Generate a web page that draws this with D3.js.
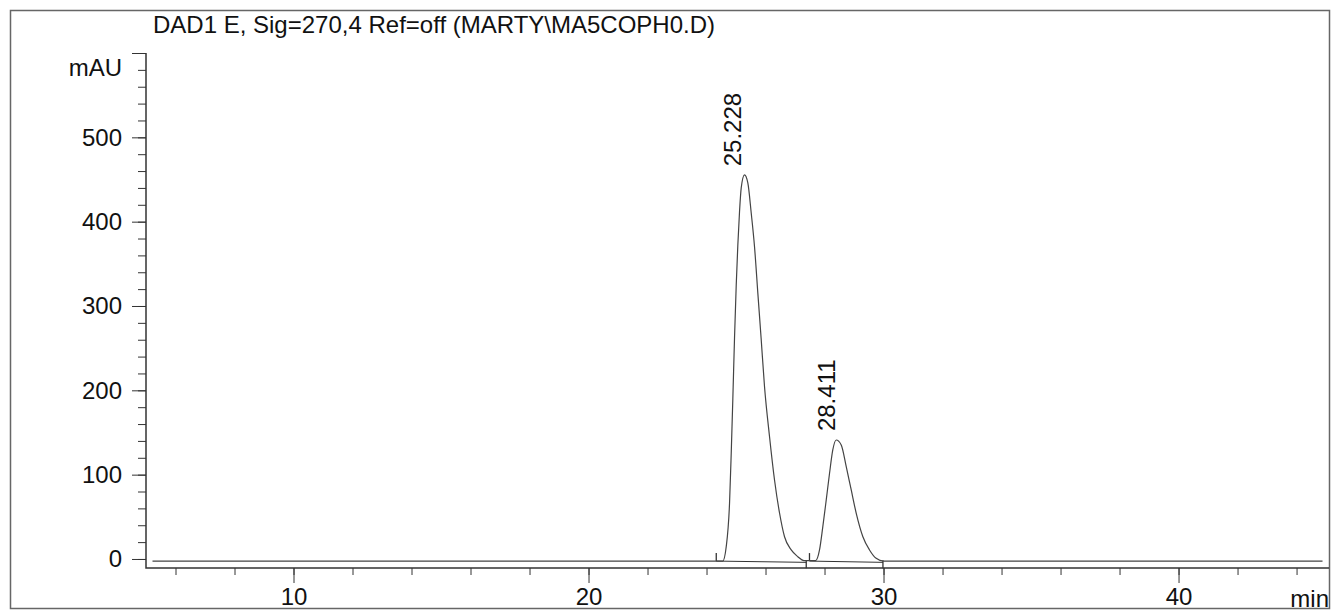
<!DOCTYPE html>
<html>
<head>
<meta charset="utf-8">
<script src="https://d3js.org/d3.v7.min.js"></script>
<style>
body { margin: 0; background: #fff; }
text { font-family: "Liberation Sans", Arial, sans-serif; fill: #111; }
</style>
</head>
<body>
<div id="graph"></div>
<script>
// title + axis labels
var title = "DAD1 E, Sig=270,4 Ref=off (MARTY\\MA5COPH0.D)";
var yUnit = "mAU";
var xUnit = "min";
var xTickLabels = [10, 20, 30, 40];
var yTickLabels = [0, 100, 200, 300, 400, 500];

// signal (time in min, mAU)
var sigTime = [5.22, 24.55, 24.668, 24.78, 24.837, 24.892, 24.949, 25.007, 25.061, 25.119, 25.176, 25.288,
  25.4, 25.515, 25.627, 25.74, 25.85, 25.966, 26.136, 26.305, 26.475, 26.644, 26.871, 27.095, 27.3,
  27.7, 27.83, 27.942, 28.058, 28.17, 28.28, 28.397, 28.566, 28.736, 28.905, 29.075, 29.3, 29.525, 29.75,
  30.0, 44.88];
var sigValue = [-2.5, -2.5, 14.6, 66, 125, 190, 262, 325, 372, 412, 440, 455.4,
  445.9, 410.3, 370.3, 315, 262, 204.3, 145, 93.7, 54.5, 26.4, 10.7, 2.7, -2,
  -2, 10.7, 38.3, 70, 101.6, 129.3, 141.1, 135.2, 109.5, 81.8, 54.2, 26.4, 10.7, 0.8,
  -2.5, -2.5];

// integrated peaks
var peakRT = [25.228, 28.411];
var peakHeight = [455, 141];
var peakStart = [24.33, 27.49];
var peakEnd = [27.38, 29.98];

function drawStuff(){
  var W = 1332, H = 611;
  var svg = d3.select("#graph").append("svg")
    .attr("width", W).attr("height", H);

  // outer frame
  svg.append("rect")
    .attr("x", 10.5).attr("y", 10.5)
    .attr("width", 1319).attr("height", 598)
    .attr("fill", "none").attr("stroke", "#666").attr("stroke-width", 1.5);

  var x = d3.scaleLinear().domain([5, 45.1]).range([146, 1329]);
  var y = d3.scaleLinear().domain([-10.7, 600]).range([568, 53]);

  // y axis
  var yMinor = d3.range(0, 601, 20);
  svg.append("g").attr("transform", "translate(146,0)")
    .call(d3.axisLeft(y).tickValues(yMinor).tickSize(8).tickFormat(""))
    .call(function(g){ g.select(".domain").remove(); g.selectAll("line").attr("stroke", "#333"); });
  svg.append("g").attr("transform", "translate(146,0)")
    .call(d3.axisLeft(y).tickValues(yTickLabels.concat([600])).tickSize(14).tickPadding(10)
      .tickFormat(function(d){ return d == 600 ? "" : d; }))
    .call(function(g){
      g.select(".domain").remove();
      g.selectAll("line").attr("stroke", "#333");
      g.selectAll("text").style("font-size", "24px").attr("fill", "#111")
        .style("font-family", "'Liberation Sans', Arial, sans-serif");
    });

  // x axis
  var xMinor = d3.range(6, 45, 2);
  svg.append("g").attr("transform", "translate(0,568)")
    .call(d3.axisBottom(x).tickValues(xMinor).tickSize(7).tickFormat(""))
    .call(function(g){ g.select(".domain").remove(); g.selectAll("line").attr("stroke", "#333"); });
  svg.append("g").attr("transform", "translate(0,568)")
    .call(d3.axisBottom(x).tickValues(xTickLabels).tickSize(15).tickPadding(5))
    .call(function(g){
      g.select(".domain").remove();
      g.selectAll("line").attr("stroke", "#333");
      g.selectAll("text").style("font-size", "24px").attr("fill", "#111")
        .style("font-family", "'Liberation Sans', Arial, sans-serif");
    });

  // axis lines
  svg.append("path")
    .attr("d", "M146," + y(600) + "V" + y(-10.7) + "H" + x(45.1))
    .attr("fill", "none").attr("stroke", "#333").attr("stroke-width", 1.5);

  // labels
  svg.append("text").attr("x", 153).attr("y", 33)
    .style("font-size", "24px").text(title);
  svg.append("text").attr("x", 122).attr("y", 76).attr("text-anchor", "end")
    .style("font-size", "24px").text(yUnit);
  svg.append("text").attr("x", 1329).attr("y", 607).attr("text-anchor", "end")
    .style("font-size", "24px").text(xUnit);

  // integration baselines and marks
  for (var i = 0; i < peakRT.length; i++){
    svg.append("line")
      .attr("x1", x(peakStart[i])).attr("y1", y(-2.5))
      .attr("x2", x(peakEnd[i])).attr("y2", y(-4))
      .attr("stroke", "#333").attr("stroke-width", 1);
    svg.append("line")
      .attr("x1", x(peakStart[i])).attr("y1", y(-2.5))
      .attr("x2", x(peakStart[i])).attr("y2", y(-2.5) - 8)
      .attr("stroke", "#333").attr("stroke-width", 1.3);
    svg.append("line")
      .attr("x1", x(peakEnd[i])).attr("y1", y(-4) - 2)
      .attr("x2", x(peakEnd[i])).attr("y2", y(-4) + 6)
      .attr("stroke", "#333").attr("stroke-width", 1.3);
  }

  // signal trace
  var pts = sigTime.map(function(t, i){ return [t, sigValue[i]]; });
  var line = d3.line()
    .x(function(d){ return x(d[0]); })
    .y(function(d){ return y(d[1]); })
    .curve(d3.curveMonotoneX);
  svg.append("path").datum(pts)
    .attr("d", line)
    .attr("fill", "none").attr("stroke", "#444").attr("stroke-width", 1.2);

  // retention time labels
  svg.selectAll("text.rt")
    .data(peakRT)
    .enter()
    .append("text")
    .attr("class", "rt")
    .attr("transform", function(d, i){
      return "translate(" + (x(d) - 2) + "," + (y(peakHeight[i]) - 9) + ") rotate(-90)";
    })
    .style("font-size", "24px")
    .text(function(d){ return d.toFixed(3); });
}
drawStuff();
</script>
</body>
</html>
